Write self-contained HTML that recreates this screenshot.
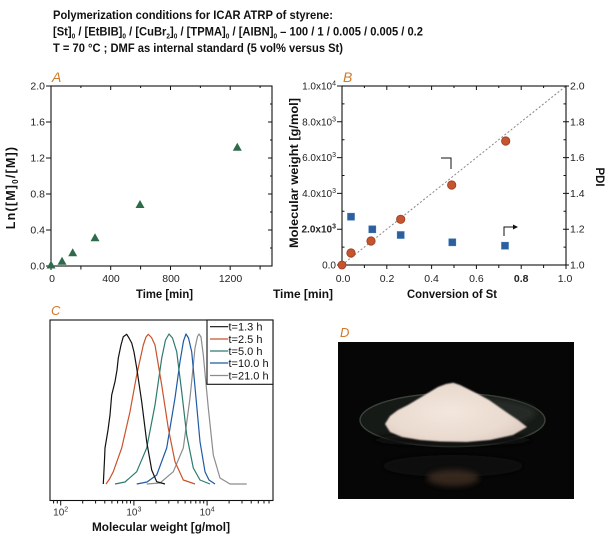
<!DOCTYPE html>
<html><head><meta charset="utf-8"><style>
html,body{margin:0;padding:0;background:#fff;}
svg{display:block;font-family:"Liberation Sans",Arial,sans-serif;}
.t{font-size:10.5px;fill:#222;}
.b{font-weight:bold;font-size:11.5px;fill:#111;}
.lab{font-style:italic;font-size:14px;fill:#cf7a2b;}
.lg{font-size:11px;fill:#111;}
</style></head><body>
<svg width="612" height="540" viewBox="0 0 612 540" xmlns="http://www.w3.org/2000/svg">
<defs>
<filter id="bl3" x="-50%" y="-50%" width="200%" height="200%"><feGaussianBlur stdDeviation="3"/></filter>
<filter id="bl1" x="-20%" y="-20%" width="140%" height="140%"><feGaussianBlur stdDeviation="0.7"/></filter>
<radialGradient id="pw" cx="0.45" cy="0.5" r="0.6"><stop offset="0" stop-color="#f3e6dc"/><stop offset="0.7" stop-color="#eadbd0"/><stop offset="1" stop-color="#dccbc0"/></radialGradient>
</defs>
<rect width="612" height="540" fill="#fff"/>

<!-- Title -->
<text x="53" y="19" class="b" textLength="280" lengthAdjust="spacingAndGlyphs" style="font-size:12px">Polymerization conditions for ICAR ATRP of styrene:</text>
<text x="53" y="35.5" class="b" style="font-size:12px" textLength="370" lengthAdjust="spacingAndGlyphs">[St]<tspan font-size="7" dy="3">0</tspan><tspan dy="-3"> / [EtBIB]</tspan><tspan font-size="7" dy="3">0</tspan><tspan dy="-3"> / [CuBr</tspan><tspan font-size="7" dy="3">2</tspan><tspan dy="-3">]</tspan><tspan font-size="7" dy="3">0</tspan><tspan dy="-3"> / [TPMA]</tspan><tspan font-size="7" dy="3">0</tspan><tspan dy="-3"> / [AIBN]</tspan><tspan font-size="7" dy="3">0</tspan><tspan dy="-3"> – 100 / 1 / 0.005 / 0.005 / 0.2</tspan></text>
<text x="53" y="52" class="b" style="font-size:12px" textLength="290" lengthAdjust="spacingAndGlyphs">T = 70 °C ; DMF as internal standard (5 vol% versus St)</text>

<!-- Panel A -->
<text x="52" y="82" class="lab">A</text>
<rect x="51" y="86" width="221" height="180" fill="none" stroke="#111" stroke-width="1.1"/>
<path stroke="#111" stroke-width="1" fill="none" d="
M46 86H51M46 122H51M46 158H51M46 194H51M46 230H51M46 266H51
M272 86H268M272 122H268M272 158H268M272 194H268M272 230H268
M272 104H270M272 140H270M272 176H270M272 212H270M272 248H270
M110.7 86V90M170.5 86V90M230.2 86V90M80.9 86V88M140.6 86V88M200.4 86V88M260.1 86V88
M51 266V270M80.9 266V269.5M110.7 266V270M140.6 266V269.5M170.5 266V270M200.4 266V269.5M230.2 266V270M260.1 266V269.5"/>
<g class="t" text-anchor="end">
<text x="45" y="89.5">2.0</text><text x="45" y="125.5">1.6</text><text x="45" y="161.5">1.2</text>
<text x="45" y="197.5">0.8</text><text x="45" y="233.5">0.4</text><text x="45" y="269.5">0.0</text>
</g>
<g class="t" text-anchor="middle">
<text x="52" y="282">0</text><text x="111" y="282">400</text><text x="171" y="282">800</text><text x="230.5" y="282">1200</text>
</g>
<text x="164.5" y="298" class="b" text-anchor="middle" textLength="57" lengthAdjust="spacingAndGlyphs">Time [min]</text>
<text x="273" y="298" class="b" textLength="60" lengthAdjust="spacingAndGlyphs">Time [min]</text>
<text transform="translate(15,187.5) rotate(-90)" class="b" style="font-size:12.5px" text-anchor="middle" letter-spacing="1.2">Ln([M]<tspan font-size="8" dy="3">0</tspan><tspan dy="-3">/[M])</tspan></text>
<g fill="#2e6b4a">
<polygon points="51,260.5 55.5,268.5 46.5,268.5"/>
<polygon points="62,256.7 66.5,264.7 57.5,264.7"/>
<polygon points="72.7,248.3 77.2,256.3 68.2,256.3"/>
<polygon points="95,233.3 99.5,241.3 90.5,241.3"/>
<polygon points="140,200 144.5,208 135.5,208"/>
<polygon points="237.3,142.7 241.8,150.7 232.8,150.7"/>
</g>

<!-- Panel B -->
<text x="343" y="82" class="lab">B</text>
<line x1="342" y1="265" x2="566" y2="86" stroke="#888" stroke-width="1" stroke-dasharray="2,2"/>
<rect x="342" y="86" width="224" height="179" fill="none" stroke="#111" stroke-width="1.1"/>
<path stroke="#111" stroke-width="1" fill="none" d="
M337 86H342M337 121.8H342M337 157.6H342M337 193.4H342M337 229.2H342M337 265H342
M342 103.9H344.5M342 139.7H344.5M342 175.5H344.5M342 211.3H344.5M342 247.1H344.5
M563 86H569M563 121.8H569M563 157.6H569M563 193.4H569M563 229.2H569M563 265H569
M566 103.9H563.5M566 139.7H563.5M566 175.5H563.5M566 211.3H563.5M566 247.1H563.5
M342 265V269M364.4 265V268M386.8 265V269M409.2 265V268M431.6 265V269M454 265V268M476.4 265V269M498.8 265V268M521.2 265V269M543.6 265V268M566 265V269
M386.8 86V90M431.6 86V90M476.4 86V90M521.2 86V90M364.4 86V88M409.2 86V88M454 86V88M498.8 86V88M543.6 86V88"/>
<g class="t" text-anchor="end" style="font-size:10px">
<text x="336" y="89.5">1.0x10<tspan font-size="7" dy="-4">4</tspan></text>
<text x="336" y="125.3">8.0x10<tspan font-size="7" dy="-4">3</tspan></text>
<text x="336" y="161.1">6.0x10<tspan font-size="7" dy="-4">3</tspan></text>
<text x="336" y="196.9">4.0x10<tspan font-size="7" dy="-4">3</tspan></text>
<text x="336" y="232.7" font-weight="bold">2.0x10<tspan font-size="7" dy="-4">3</tspan></text>
<text x="336" y="268.5">0.0</text>
</g>
<g class="t">
<text x="570" y="89.5">2.0</text><text x="570" y="125.3">1.8</text><text x="570" y="161.1">1.6</text>
<text x="570" y="196.9">1.4</text><text x="570" y="232.7">1.2</text><text x="570" y="268.5">1.0</text>
</g>
<g class="t" text-anchor="middle">
<text x="343" y="282">0.0</text><text x="387" y="282">0.2</text><text x="431.6" y="282">0.4</text>
<text x="476.4" y="282">0.6</text><text x="521.2" y="282" font-weight="bold">0.8</text><text x="565" y="282">1.0</text>
</g>
<text x="452" y="298" class="b" text-anchor="middle" textLength="90" lengthAdjust="spacingAndGlyphs">Conversion of St</text>
<text transform="translate(298,173) rotate(-90)" class="b" text-anchor="middle" textLength="150" lengthAdjust="spacingAndGlyphs">Molecular weight [g/mol]</text>
<text transform="translate(596,177) rotate(90)" class="b" text-anchor="middle" textLength="19" lengthAdjust="spacingAndGlyphs">PDI</text>
<path d="M441 158H451V169" fill="none" stroke="#111" stroke-width="1"/>
<path d="M504 236V227H514" fill="none" stroke="#111" stroke-width="1"/>
<polygon points="518,227 513,224.5 513,229.5" fill="#111"/>
<g fill="#c4552f" stroke="#9a3d22" stroke-width="0.8">
<circle cx="342" cy="265" r="4"/><circle cx="351" cy="253" r="4.2"/><circle cx="371" cy="241" r="4.2"/>
<circle cx="400.7" cy="219.3" r="4.2"/><circle cx="451.7" cy="185" r="4.2"/><circle cx="505.7" cy="141" r="4.2"/>
</g>
<g fill="#2b5f9e" stroke="#3d75b5" stroke-width="0.6">
<rect x="347.5" y="213.2" width="7" height="7"/><rect x="368.8" y="225.8" width="7" height="7"/>
<rect x="397.2" y="231.5" width="7" height="7"/><rect x="448.8" y="238.8" width="7" height="7"/>
<rect x="501.5" y="242.2" width="7" height="7"/>
</g>

<!-- Panel C -->
<text x="51" y="315" class="lab" style="font-size:13px">C</text>
<rect x="50" y="320" width="223" height="180.5" fill="none" stroke="#111" stroke-width="1.1"/>
<path stroke="#111" stroke-width="1" fill="none" d="
M53.6 500.5V503.5M57.3 500.5V503.5M60.7 500.5V505.5
M82.7 500.5V503.5M95.6 500.5V503.5M104.8 500.5V503.5M111.9 500.5V503.5M117.6 500.5V503.5M122.6 500.5V503.5M126.8 500.5V503.5M130.5 500.5V503.5M133.9 500.5V505.5
M155.9 500.5V503.5M168.8 500.5V503.5M178 500.5V503.5M185.1 500.5V503.5M190.8 500.5V503.5M195.8 500.5V503.5M200 500.5V503.5M203.7 500.5V503.5M207.1 500.5V505.5
M229.1 500.5V503.5M242 500.5V503.5M251.2 500.5V503.5M258.3 500.5V503.5M264 500.5V503.5M269 500.5V503.5"/>
<g class="t" text-anchor="middle" style="font-size:10px;fill:#333">
<text x="60.7" y="515.5">10<tspan font-size="7" dy="-4">2</tspan></text>
<text x="133.9" y="515.5">10<tspan font-size="7" dy="-4">3</tspan></text>
<text x="207.1" y="515.5">10<tspan font-size="7" dy="-4">4</tspan></text>
</g>
<text x="161" y="531" class="b" style="font-size:12px" text-anchor="middle" textLength="138" lengthAdjust="spacingAndGlyphs">Molecular weight [g/mol]</text>
<g fill="none" stroke-width="1.2" stroke-linejoin="round">
<polyline stroke="#8c8c8c" points="146.7,484 160,483 173.3,471.7 183.3,448 190,398 195,348 197.5,336.5 199,334 201,337 203.3,355 208.3,408 213.3,455 220,478 230,484 246.7,484"/>
<polyline stroke="#1f5aa6" points="136.7,484 147,482 156.7,475 166.7,448 175,398 180,361.7 183.5,341 186,334 188.5,338 191.7,351.7 196,398 200,441.7 205,471.7 209,480 215,484"/>
<polyline stroke="#2c7a6f" points="115,484 125,482 136.7,471.7 146.7,448 155,405 161.7,358.3 165.5,340 169,334 172.5,338 176.7,351.7 181.7,391.7 186.7,435 193.3,468 200,480 210,484"/>
<polyline stroke="#c9532b" points="106,484 109.5,479 113.3,471.7 121.7,448 130,411.7 136.7,375 143.3,345 146,337 148.3,334.3 151.5,337.5 155,345 161.7,385 168.3,428.3 175,461.7 183.3,480 195,484"/>
<polyline stroke="#111" points="103.3,484 104.5,460 105,448 108,430 110,415 111.7,395 115,381.7 117,370 118.3,358 121,345 123.3,336.7 126.7,334.3 129,338 131.7,343 134,352 136.7,368 141.7,401.7 146.7,441.7 151.7,470 156.7,481.7 165,484"/>
</g>
<rect x="207" y="320" width="66" height="64.3" fill="#fff" stroke="#111" stroke-width="1.1"/>
<g stroke-width="1.2">
<line x1="210" y1="326.7" x2="228.3" y2="326.7" stroke="#111"/>
<line x1="210" y1="339" x2="228.3" y2="339" stroke="#c9532b"/>
<line x1="210" y1="351" x2="228.3" y2="351" stroke="#2c7a6f"/>
<line x1="210" y1="363" x2="228.3" y2="363" stroke="#1f5aa6"/>
<line x1="210" y1="375.5" x2="228.3" y2="375.5" stroke="#8c8c8c"/>
</g>
<g class="lg">
<text x="228.5" y="330.7">t=1.3 h</text>
<text x="228.5" y="343">t=2.5 h</text>
<text x="228.5" y="355">t=5.0 h</text>
<text x="228.5" y="367">t=10.0 h</text>
<text x="228.5" y="379.5">t=21.0 h</text>
</g>

<!-- Panel D -->
<text x="340" y="337" class="lab" style="font-size:13px">D</text>
<rect x="338" y="342" width="236" height="157" fill="#060606"/>
<ellipse cx="453" cy="466" rx="70" ry="11" fill="#101010" filter="url(#bl3)"/>
<ellipse cx="453" cy="478" rx="26" ry="8" fill="#4a3426" opacity="0.7" filter="url(#bl3)"/>
<ellipse cx="452.5" cy="420" rx="92.5" ry="26.7" fill="#161a16" stroke="#3c423a" stroke-width="1.4"/>
<ellipse cx="470" cy="413" rx="66" ry="15" fill="#262b26" filter="url(#bl3)"/>
<ellipse cx="452.5" cy="440" rx="80" ry="6" fill="#0c0e0c" filter="url(#bl3)"/>
<polygon fill="url(#pw)" filter="url(#bl1)" points="385,424 390,416 398,410 408,405 418,399 428,393 438,387 446,384 453.3,382.7 460,385 468,389 478,394 489,400 499,407 509,414 518,420 527,427 513,435 490,440 466.7,442 440,441.5 420,440 402,437 390,432"/>
</svg>
</body></html>
